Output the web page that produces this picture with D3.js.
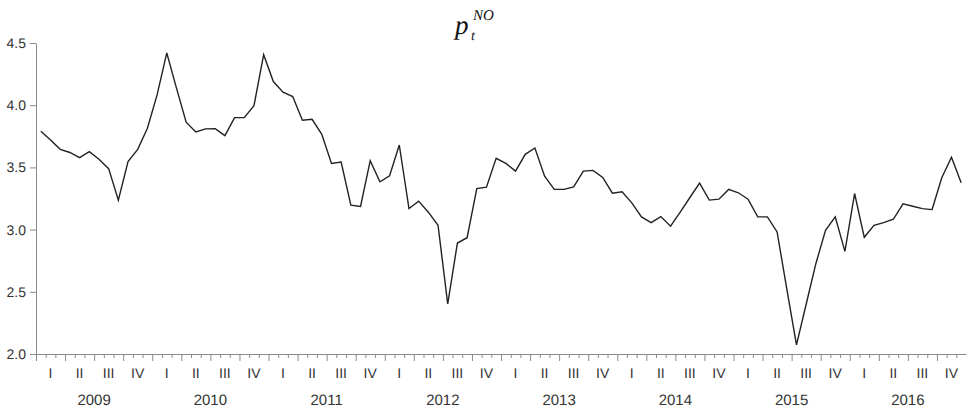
<!DOCTYPE html>
<html>
<head>
<meta charset="utf-8">
<script src="https://cdn.jsdelivr.net/npm/d3@7/dist/d3.min.js"></script>
<style>
  html, body { margin: 0; padding: 0; background: #fff; }
  svg { display: block; }
  text { text-rendering: geometricPrecision; }
</style>
</head>
<body>
<svg id="chart" width="973" height="410"></svg>
<script>
// Monthly series, Jan 2009 .. Dec 2016
const years = [2009, 2010, 2011, 2012, 2013, 2014, 2015, 2016];
const quarterLabels = ["I", "II", "III", "IV"];
const yTicks = [2.0, 2.5, 3.0, 3.5, 4.0, 4.5];
const values = [
  3.79, 3.72, 3.645, 3.62, 3.578, 3.626, 3.565, 3.49, 3.237, 3.546, 3.645, 3.815,
  4.083, 4.42, 4.137, 3.863, 3.785, 3.81, 3.812, 3.755, 3.90, 3.90, 3.997, 4.406,
  4.19, 4.105, 4.07, 3.879, 3.887, 3.766, 3.532, 3.543, 3.196, 3.186, 3.554, 3.384,
  3.433, 3.68, 3.169, 3.229, 3.14, 3.035, 2.403, 2.892, 2.935, 3.33, 3.341, 3.573,
  3.532, 3.47, 3.605, 3.656, 3.43, 3.323, 3.323, 3.344, 3.47, 3.476, 3.419, 3.293,
  3.304, 3.215, 3.102, 3.056, 3.105, 3.027, 3.14, 3.258, 3.374, 3.237, 3.245, 3.323,
  3.296, 3.245, 3.102, 3.102, 2.981, 2.524, 2.073, 2.40, 2.726, 2.995, 3.102, 2.825,
  3.29, 2.938, 3.035, 3.056, 3.083, 3.207, 3.188, 3.169, 3.161, 3.417, 3.581, 3.376
];

const svg = d3.select("#chart");
const nMonths = years.length * 12;

const x = d3.scaleLinear().domain([0, nMonths]).range([36, 966]);
const y = d3.scaleLinear().domain([2.0, 4.5]).range([354, 43]);

const axisColor = "#8a8a8a";
const textColor = "#333";

// Y axis
const yAxis = svg.append("g")
  .attr("transform", `translate(${x(0)},0)`)
  .call(d3.axisLeft(y).tickValues(yTicks).tickFormat(d3.format(".1f"))
        .tickSize(6).tickSizeOuter(0).tickPadding(4));
yAxis.select(".domain").attr("stroke", axisColor);
yAxis.selectAll(".tick line").attr("stroke", axisColor);
yAxis.selectAll("text")
  .attr("fill", textColor)
  .style("font-family", "'Liberation Sans', Arial, sans-serif")
  .style("font-size", "14px");

// X axis (monthly ticks, longer at quarter boundaries)
const xAxis = svg.append("g")
  .attr("transform", `translate(0,${y(2.0)})`)
  .call(d3.axisBottom(x).tickValues(d3.range(0, nMonths)).tickFormat("")
        .tickSize(4).tickSizeOuter(0));
xAxis.select(".domain").attr("stroke", axisColor);
xAxis.selectAll(".tick line")
  .attr("stroke", axisColor)
  .attr("y2", d => (d % 3 === 0 ? 7 : 4));

// Quarter labels
const quarters = d3.range(0, years.length * 4);
svg.append("g").selectAll("text")
  .data(quarters)
  .join("text")
  .attr("x", q => x(q * 3 + 1.5))
  .attr("y", 378)
  .attr("text-anchor", "middle")
  .attr("fill", textColor)
  .style("font-family", "'Liberation Sans', Arial, sans-serif")
  .style("font-size", "14px")
  .text(q => quarterLabels[q % 4]);

// Year labels
svg.append("g").selectAll("text")
  .data(years)
  .join("text")
  .attr("x", (d, i) => x(i * 12 + 6))
  .attr("y", 405)
  .attr("text-anchor", "middle")
  .attr("fill", textColor)
  .style("font-family", "'Liberation Sans', Arial, sans-serif")
  .style("font-size", "15px")
  .text(d => d);

// Line
const line = d3.line()
  .x((d, i) => x(i + 0.5))
  .y(d => y(d));
svg.append("path")
  .datum(values)
  .attr("fill", "none")
  .attr("stroke", "#222")
  .attr("stroke-width", 1.4)
  .attr("stroke-linejoin", "miter")
  .attr("d", line);

// Title: p_t^{NO}
const title = svg.append("g")
  .style("font-family", "'Liberation Serif', 'Times New Roman', serif")
  .style("font-style", "italic")
  .attr("fill", "#111");
title.append("text").attr("x", 455).attr("y", 34).style("font-size", "27px").text("p");
title.append("text").attr("x", 471).attr("y", 40).style("font-size", "14px").text("t");
title.append("text").attr("x", 473).attr("y", 20).style("font-size", "15px").text("NO");
</script>
</body>
</html>
